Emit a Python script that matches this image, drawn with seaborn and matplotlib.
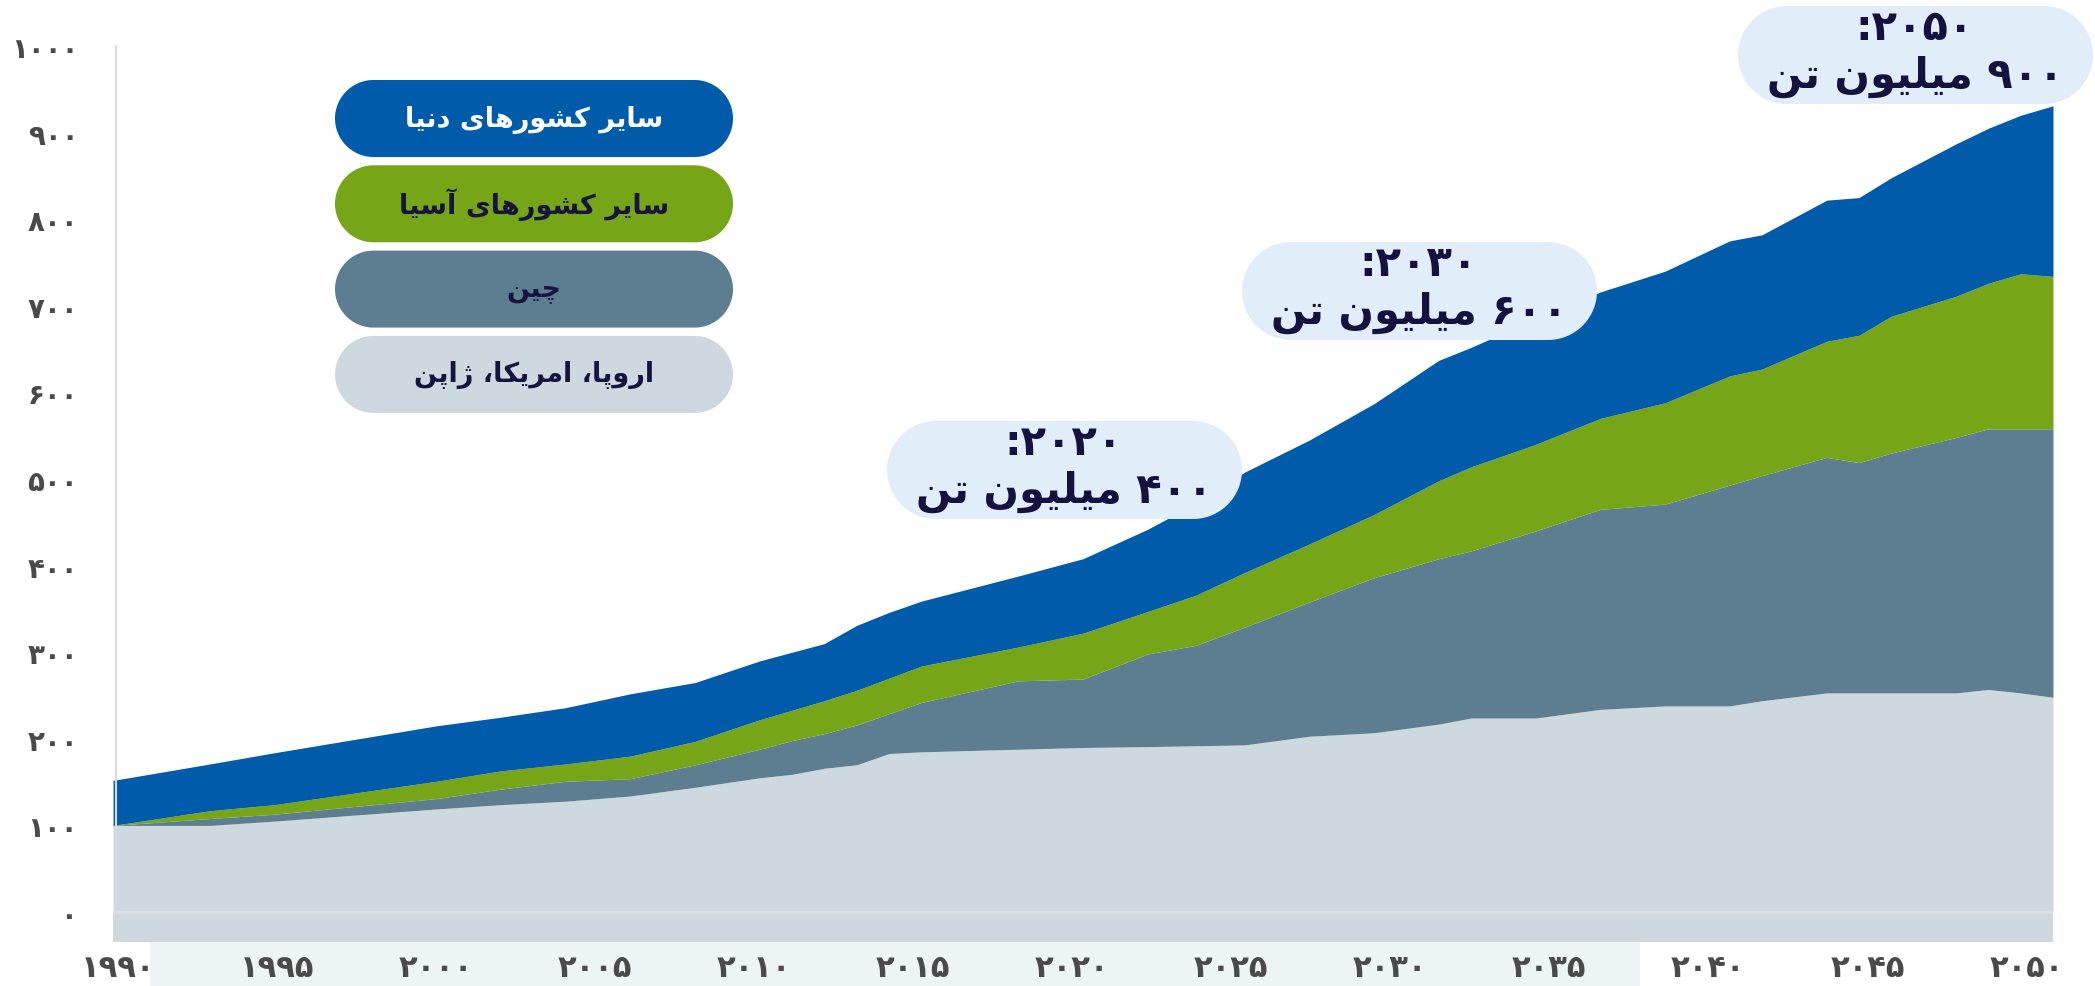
import re
import numpy as np
import pandas as pd
import seaborn as sns
import matplotlib
matplotlib.use("Agg")
import matplotlib.pyplot as plt
from matplotlib.patches import Polygon, Rectangle

# ---- data (million tonnes) ----
years = [1990, 1993, 1995, 2000, 2002, 2004, 2006, 2008, 2010, 2011, 2012, 2013,
         2014, 2015, 2018, 2020, 2022, 2023.5, 2025, 2027, 2029, 2031, 2032, 2034,
         2036, 2038, 2040, 2041, 2043, 2044, 2045, 2047, 2048, 2049, 2050]
europe_us_japan = [100, 100, 105, 119, 124, 128, 134, 144, 155, 159, 166, 170,
                   183, 185, 188, 190, 191, 192, 193, 203, 207, 217, 224, 224,
                   234, 238, 238, 244, 253, 253, 253, 253, 257, 253, 248]
china = [0, 8, 8, 12, 18, 23, 20, 26, 33, 39, 40, 46,
         46, 57, 79, 79, 107, 116, 136, 155, 179, 191, 193, 216,
         231, 233, 255, 260, 272, 266, 277, 295, 301, 305, 310]
other_asia = [0, 9, 11, 20, 21, 20, 26, 27, 34, 35, 38, 40,
              41, 42, 39, 53, 49, 58, 63, 67, 73, 90, 97, 100,
              105, 117, 126, 123, 134, 147, 158, 163, 168, 179, 176]
rest_of_world = [52, 54, 60, 64, 62, 65, 72, 68, 68, 67, 66, 75,
                 76, 75, 82, 86, 95, 106, 116, 120, 128, 139, 138, 145,
                 146, 152, 156, 155, 163, 159, 160, 176, 179, 183, 197]

series_names = ["اروپا، امریکا، ژاپن", "چین", "سایر کشورهای آسیا", "سایر کشورهای دنیا"]
series_colors = ["#CDD8DF", "#5D7E90", "#76A518", "#005BAA"]
legend_text_colors = ["#17153F", "#17153F", "#17153F", "#FFFFFF"]

x_tick_years = list(range(1990, 2051, 5))
y_ticks = list(range(0, 1001, 100))

callout_years = [2020, 2030, 2050]
callout_amounts = [400, 600, 900]

# ---- minimal Persian shaping (matplotlib has no bidi / joining) ----
FORMS = {
    "\u0627": ("\uFE8D", "\uFE8E", None, None),
    "\u0622": ("\uFE81", "\uFE82", None, None),
    "\u067E": ("\uFB56", "\uFB57", "\uFB58", "\uFB59"),
    "\u062A": ("\uFE95", "\uFE96", "\uFE97", "\uFE98"),
    "\u0686": ("\uFB7A", "\uFB7B", "\uFB7C", "\uFB7D"),
    "\u062F": ("\uFEA9", "\uFEAA", None, None),
    "\u0631": ("\uFEAD", "\uFEAE", None, None),
    "\u0698": ("\uFB8A", "\uFB8B", None, None),
    "\u0633": ("\uFEB1", "\uFEB2", "\uFEB3", "\uFEB4"),
    "\u0634": ("\uFEB5", "\uFEB6", "\uFEB7", "\uFEB8"),
    "\u06A9": ("\uFB8E", "\uFB8F", "\uFB90", "\uFB91"),
    "\u0644": ("\uFEDD", "\uFEDE", "\uFEDF", "\uFEE0"),
    "\u0645": ("\uFEE1", "\uFEE2", "\uFEE3", "\uFEE4"),
    "\u0646": ("\uFEE5", "\uFEE6", "\uFEE7", "\uFEE8"),
    "\u0647": ("\uFEE9", "\uFEEA", "\uFEEB", "\uFEEC"),
    "\u0648": ("\uFEED", "\uFEEE", None, None),
    "\u06CC": ("\uFBFC", "\uFBFD", "\uFBFE", "\uFBFF"),
}
FA_DIGITS = str.maketrans("0123456789", "۰۱۲۳۴۵۶۷۸۹")


def fa_num(n):
    return str(n).translate(FA_DIGITS)


def fa(text):
    s = text.replace("\u064A", "\u06CC").replace("\u0643", "\u06A9").replace("\u0627\u0653", "\u0622")
    out = []
    for i, ch in enumerate(s):
        if ch not in FORMS:
            out.append(ch)
            continue
        prev = s[i - 1] if i > 0 else None
        nxt = s[i + 1] if i + 1 < len(s) else None
        iso, fin, ini, med = FORMS[ch]
        join_prev = prev in FORMS and FORMS[prev][2] is not None
        join_next = nxt in FORMS and ini is not None
        if join_prev and join_next:
            out.append(med)
        elif join_prev:
            out.append(fin)
        elif join_next:
            out.append(ini)
        else:
            out.append(iso)
    visual = "".join(out)[::-1]
    return re.sub(r"[0-9\u06F0-\u06F9]+", lambda m: m.group(0)[::-1], visual)


# ---- figure ----
sns.set_theme(style="white")
plt.rcParams["font.family"] = ["DejaVu Sans"]
plt.rcParams["font.weight"] = "bold"

W, H = 2095, 987
fig = plt.figure(figsize=(W / 100, H / 100), dpi=100)

# background layer in pixel units: faint strip behind the x labels
bg = fig.add_axes([0, 0, 1, 1], zorder=0)
bg.set_xlim(0, W)
bg.set_ylim(H, 0)
bg.axis("off")
bg.add_patch(Rectangle((150, 943), 1490, 44, facecolor="#EDF5F4", edgecolor="none"))

ax = fig.add_axes([113 / W, 1 - 943 / H, (2053 - 113) / W, 943 / H], zorder=1)
ax.patch.set_alpha(0)

y_bottom = -34.6
ax.stackplot(years, europe_us_japan, china, other_asia, rest_of_world,
             colors=series_colors, linewidth=0, zorder=1)
ax.fill_between([years[0], years[-1]], y_bottom, 0, color=series_colors[0], lw=0, zorder=1)
ax.axhline(0, color="#DEE0E3", lw=2, zorder=2)
ax.plot([1990.1, 1990.1], [0, 1000], color="#DADADA", lw=1.5, zorder=2)

ax.set_xlim(1990, 2050)
ax.set_ylim(y_bottom, 1054.3)
sns.despine(ax=ax, left=True, bottom=True)

# tick labels sit on a slightly compressed category-style grid in the original
tick_pos = [1990.14 + (y - 1990) * 0.984 for y in x_tick_years]
ax.set_xticks(tick_pos)
ax.set_xticklabels([fa_num(y) for y in x_tick_years])
ax.set_yticks(y_ticks)
ax.set_yticklabels([fa_num(v) for v in y_ticks])
ax.tick_params(axis="x", length=0, pad=8, labelsize=22, labelcolor="#4A4A4A")
ax.tick_params(axis="y", length=0, pad=25, labelsize=20, labelcolor="#4A4A4A")
ax.grid(False)

# overlay in pixel units (isotropic) for the legend pills and call-outs
ov = fig.add_axes([0, 0, 1, 1], zorder=2)
ov.set_xlim(0, W)
ov.set_ylim(H, 0)
ov.axis("off")
ov.patch.set_alpha(0)


def pill(x0, y0, x1, y1, color):
    r = (y1 - y0) / 2
    cy = (y0 + y1) / 2
    a_r = np.linspace(-np.pi / 2, np.pi / 2, 60)
    a_l = np.linspace(np.pi / 2, 3 * np.pi / 2, 60)
    pts = np.vstack([np.c_[x1 - r + r * np.cos(a_r), cy + r * np.sin(a_r)],
                     np.c_[x0 + r + r * np.cos(a_l), cy + r * np.sin(a_l)]])
    ov.add_patch(Polygon(pts, closed=True, facecolor=color, edgecolor="none", zorder=2))


# legend pills, top to bottom: rest of world, other asia, china, europe
for k, idx in enumerate([3, 2, 1, 0]):
    top = 81 + k * 85.3
    pill(335, top, 733, top + 77, series_colors[idx])
    ov.text(534, top + 38.5, fa(series_names[idx]), ha="center", va="center",
            fontsize=19.5, fontweight="bold", color=legend_text_colors[idx], zorder=4)

# call-out boxes
box_pos = [(887, 422), (1242, 243), (1738, 7)]
for (bx, by), yr, amt in zip(box_pos, callout_years, callout_amounts):
    pill(bx, by, bx + 355, by + 98, "#E1EDF8")
    cx = bx + 177
    ov.text(cx, by + 21, fa(fa_num(yr) + ":"), ha="center", va="center",
            fontsize=30, fontweight="bold", color="#16123F", zorder=4)
    ov.text(cx, by + 70, fa(fa_num(amt) + " میلیون تن"), ha="center", va="center",
            fontsize=30, fontweight="bold", color="#16123F", zorder=4)

fig.savefig("out.png", dpi=100)
